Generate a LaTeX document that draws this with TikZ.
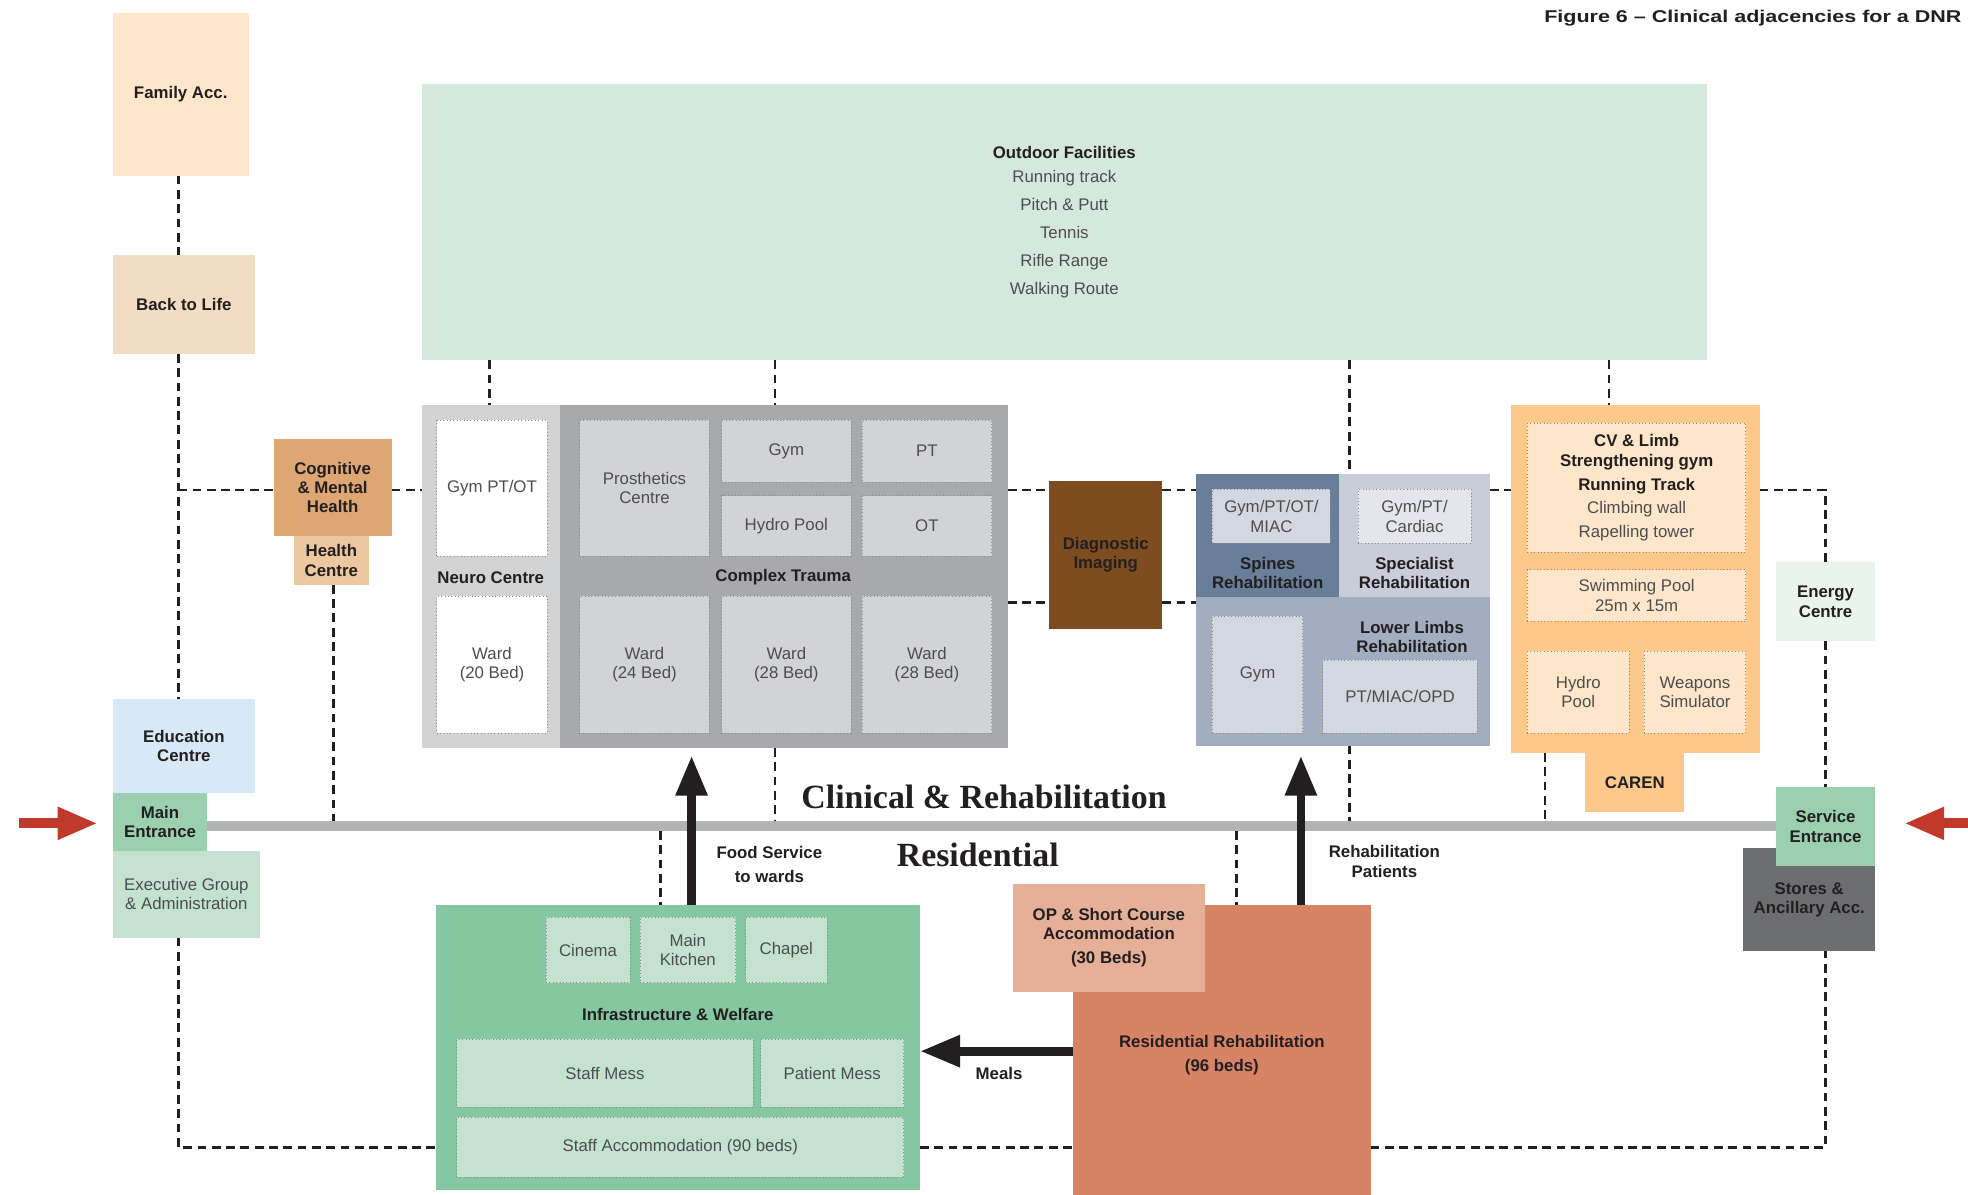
\documentclass[tikz,border=0pt]{standalone}
\usepackage{fontspec}
\setmainfont{Liberation Sans}
\newfontfamily\bannerfont{Liberation Serif}
\newfontfamily\captionfont{Liberation Sans}[FakeStretch=1.26]
\usetikzlibrary{arrows.meta}

\definecolor{ink}{HTML}{231F20}
\definecolor{soft}{HTML}{4D4D4F}
\definecolor{dotline}{HTML}{8A8B8D}
\definecolor{peachpale}{HTML}{FDE6C9}
\definecolor{peachmid}{HTML}{F3DCC4}
\definecolor{tanbox}{HTML}{DEA673}
\definecolor{tanpale}{HTML}{EBC8A0}
\definecolor{mint}{HTML}{D4E8DB}
\definecolor{mintpale}{HTML}{E8F4EC}
\definecolor{greylight}{HTML}{D1D3D4}
\definecolor{greymid}{HTML}{A7A9AC}
\definecolor{umber}{HTML}{7E4D1F}
\definecolor{slate}{HTML}{687E99}
\definecolor{slatepale}{HTML}{C9CDD7}
\definecolor{slatemid}{HTML}{A2AEC0}
\definecolor{slatecell}{HTML}{D3D7DF}
\definecolor{slatecellpale}{HTML}{E4E6EC}
\definecolor{amber}{HTML}{FDC98B}
\definecolor{sky}{HTML}{D7E8F6}
\definecolor{entry}{HTML}{9AD0AF}
\definecolor{sage}{HTML}{C4E2CF}
\definecolor{welfare}{HTML}{85C7A1}
\definecolor{terracotta}{HTML}{D78366}
\definecolor{salmon}{HTML}{E5AF98}
\definecolor{stone}{HTML}{6D6E71}
\definecolor{corridorgrey}{HTML}{B1B3B6}
\definecolor{arrowred}{HTML}{C1392B}

\begin{document}
\begin{tikzpicture}[x=0.5pt, y=-0.5pt,
  area/.style args={#1/#2/#3/#4}{at={({(#1+#3)/2},{(#2+#4)/2})},
    minimum width={(#3-#1)*0.5pt}, minimum height={(#4-#2)*0.5pt}},
  room/.style={inner sep=0pt, outer sep=0pt, align=center, text=ink,
    font=\fontsize{6.7}{7.7}\selectfont\bfseries},
  cell/.style={room, draw=dotline, densely dotted, line width=0.35pt, text=soft,
    font=\fontsize{6.7}{7.7}\selectfont},
  tag/.style={inner sep=0pt, align=center, text=ink,
    font=\fontsize{6.7}{7.9}\selectfont\bfseries},
  link/.style={draw=ink, line width=1.1pt, dash pattern=on 3.5pt off 2.2pt},
  flow/.style={draw=ink, line width=3.5pt, -{Triangle[width=12pt,length=16pt]}},
  banner/.style={inner sep=0pt, text=ink, font=\bannerfont\fontsize{13.5}{15}\selectfont\bfseries}]
  \useasboundingbox (0,0) rectangle (1568,952);
  \clip (0,0) rectangle (1568,952);

  % Title
  \node[anchor=base west, inner sep=0pt, text=ink, font=\captionfont\fontsize{6.8}{8}\selectfont\bfseries]
    (title) at (1230,18) {Figure 6 – Clinical adjacencies for a DNR};

  % Define the columns and rows the dashed links run along
  \coordinate (westx) at (142,0);
  \coordinate (neurox) at (390,0);
  \coordinate (healthx) at (266,0);
  \coordinate (infrax) at (526,0);
  \coordinate (foodx) at (551,0);
  \coordinate (traumax) at (617.5,0);
  \coordinate (resx) at (985,0);
  \coordinate (rehabx) at (1036.5,0);
  \coordinate (spinex) at (1075,0);
  \coordinate (carenx) at (1231,0);
  \coordinate (cvx) at (1282,0);
  \coordinate (eastx) at (1454.5,0);
  \coordinate (upperrow) at (0,390.5);
  \coordinate (lowerrow) at (0,480);
  \coordinate (mealsrow) at (0,837.5);
  \coordinate (bottomrow) at (0,914);
  \coordinate (westgate) at (15,656);
  \coordinate (eastgate) at (1600,656);

  % West wing
  \node[room, fill=peachpale, area=90/10/198/140] (family) {Family Acc.};
  \node[room, fill=peachmid, area=90/203/203/282] (backlife) {Back to Life};
  \node[room, fill=tanbox, area=218/350/312/427] (cognitive) {Cognitive\\\& Mental\\Health};
  \node[room, fill=tanpale, area=234/427/294/466] (health) {Health\\Centre};
  \node[room, fill=sky, area=90/557/203/632] (education) {Education\\Centre};
  \node[room, fill=entry, area=90/632/165/678] (mainent) {Main\\Entrance};
  \node[room, fill=sage, text=soft, font=\fontsize{6.7}{7.7}\selectfont,
    area=90/678/207/747] (executive) {Executive Group\\\& Administration};

  % Outdoor facilities
  \node[room, fill=mint, text=soft, font=\fontsize{6.7}{11.2}\selectfont,
    area=336/67/1360/287] (outdoor)
    {{\bfseries\color{ink}Outdoor Facilities}\\[-1.7pt]Running track\\Pitch \& Putt\\Tennis\\Rifle Range\\Walking Route};

  % Neuro centre and complex trauma
  \node[room, fill=greylight, area=336/323/446/596] (neuro) {};
  \node[room, fill=greymid, area=446/323/803/596] (trauma) {};
  \node[cell, fill=white, area=348/335/436/443] (neurogym) {Gym PT/OT};
  \node[cell, fill=white, area=348/475/436/584] (neuroward) {Ward\\(20 Bed)};
  \node[cell, fill=greylight, area=462/335/565/443] (prosthetics) {Prosthetics\\Centre};
  \node[cell, fill=greylight, area=575/335/678/384] (traumagym) {Gym};
  \node[cell, fill=greylight, area=687/335/790/384] (traumapt) {PT};
  \node[cell, fill=greylight, area=575/395/678/443] (traumahydro) {Hydro Pool};
  \node[cell, fill=greylight, area=687/395/790/443] (traumaot) {OT};
  \foreach \x/\beds [count=\i] in {462/24,575/28,687/28}
    \node[cell, fill=greylight, area=\x/475/\x+103/584] (ward\i) {Ward\\(\beds\ Bed)};
  \node[tag] (neurolabel) at (391,460) {Neuro Centre};
  \node[tag] (traumalabel) at (624,460) {Complex Trauma};

  \node[room, fill=umber, area=836/383/926/501] (diag) {Diagnostic\\Imaging};

  % Rehabilitation blocks
  \node[room, fill=slate, area=953/378/1067/476] (spines) {};
  \node[room, fill=slatepale, area=1067/378/1187/476] (specialist) {};
  \node[room, fill=slatemid, area=953/476/1187/594] (limbs) {};
  \node[cell, fill=slatecell, area=966/390/1060/433] (spinesgym) {Gym/PT/OT/\\MIAC};
  \node[cell, fill=slatecellpale, area=1082/390/1172/433] (cardiac) {Gym/PT/\\Cardiac};
  \node[cell, fill=slatecell, area=966/491/1038/584] (limbsgym) {Gym};
  \node[cell, fill=slatecell, area=1054/526/1177/584] (opd) {PT/MIAC/OPD};
  \node[tag] (spineslabel) at (1010,456.5) {Spines\\Rehabilitation};
  \node[tag] (speclabel) at (1127,456.5) {Specialist\\Rehabilitation};
  \node[tag] (limbslabel) at (1125,507.5) {Lower Limbs\\Rehabilitation};

  % CV and limb block
  \node[room, fill=amber, area=1204/323/1402/600] (cv) {};
  \node[room, fill=amber, area=1263/600/1342/647] (caren) {CAREN};
  \node[cell, fill=peachpale, font=\fontsize{6.7}{9.5}\selectfont, area=1217/337/1391/440] (cvgym)
    {{\bfseries\color{ink}CV \& Limb}\\[-1.5pt]{\bfseries\color{ink}Strengthening gym}\\{\bfseries\color{ink}Running Track}\\Climbing wall\\Rapelling tower};
  \node[cell, fill=peachpale, area=1217/454/1391/495] (pool) {Swimming Pool\\25m x 15m};
  \node[cell, fill=peachpale, area=1217/519/1298/584] (cvhydro) {Hydro\\Pool};
  \node[cell, fill=peachpale, area=1310/519/1391/584] (weapons) {Weapons\\Simulator};

  % East wing
  \node[room, fill=mintpale, area=1415/448/1494/511] (energy) {Energy\\Centre};
  \node[room, fill=stone, area=1389/676/1494/758] (stores) {Stores \&\\Ancillary Acc.};
  \node[room, fill=entry, area=1415/627/1494/690] (service) {Service\\Entrance};

  % Corridor between the two zones
  \node[inner sep=0pt, outer sep=0pt, fill=corridorgrey, area=165/654/1415/662] (corridor) {};
  \node[banner] (clinical) at (784,635) {Clinical \& Rehabilitation};
  \node[banner] (residential) at (779,681) {Residential};

  % Residential zone
  \node[room, fill=welfare, area=347/721/733/948] (infra) {};
  \node[cell, fill=sage, area=435/731/502/783] (cinema) {Cinema};
  \node[cell, fill=sage, area=510/731/586/783] (kitchen) {Main\\Kitchen};
  \node[cell, fill=sage, area=594/731/659/783] (chapel) {Chapel};
  \node[cell, fill=sage, area=364/828/600/882] (staffmess) {Staff Mess};
  \node[cell, fill=sage, area=606/828/720/882] (patientmess) {Patient Mess};
  \node[cell, fill=sage, area=364/890/720/938] (staffacc) {Staff Accommodation (90 beds)};
  \node[tag] (infralabel) at (540,808) {Infrastructure \& Welfare};
  \node[room, fill=terracotta, font=\fontsize{6.7}{9.5}\selectfont\bfseries,
    area=855/721/1092/960] (resrehab) {Residential Rehabilitation\\(96 beds)};
  \node[room, fill=salmon, area=807/704/960/790] (opshort)
    {OP \& Short Course\\Accommodation\\[2pt](30 Beds)};

  % Draw the dashed adjacencies
  \draw[link] (family.south -| westx) -- (backlife.north -| westx);
  \draw[link] (backlife.south -| westx) -- (education.north -| westx);
  \draw[link] (westx |- upperrow) -- (cognitive.west |- upperrow);
  \draw[link] (cognitive.east |- upperrow) -- (neuro.west |- upperrow);
  \draw[link] (health.south -| healthx) -- (corridor.north -| healthx);
  \draw[link] (outdoor.south -| neurox) -- (neuro.north -| neurox);
  \draw[link] (outdoor.south -| traumax) -- (trauma.north -| traumax);
  \draw[link] (outdoor.south -| spinex) -- (specialist.north -| spinex);
  \draw[link] (outdoor.south -| cvx) -- (cv.north -| cvx);
  \draw[link] (trauma.east |- upperrow) -- (diag.west |- upperrow);
  \draw[link] (diag.east |- upperrow) -- (spines.west |- upperrow);
  \draw[link] (trauma.east |- lowerrow) -- (diag.west |- lowerrow);
  \draw[link] (diag.east |- lowerrow) -- (limbs.west |- lowerrow);
  \draw[link] (specialist.east |- upperrow) -- (cv.west |- upperrow);
  \draw[link] (cv.east |- upperrow) -| (energy.north);
  \draw[link] (energy.south) -- (service.north);
  \draw[link] (trauma.south -| traumax) -- (corridor.north -| traumax);
  \draw[link] (limbs.south -| spinex) -- (corridor.north -| spinex);
  \draw[link] (cv.south -| carenx) -- (corridor.north -| carenx);
  \draw[link] (corridor.south -| infrax) -- (infra.north -| infrax);
  \draw[link] (corridor.south -| resx) -- (resrehab.north -| resx);
  \draw[link] (executive.south -| westx) |- (infra.west |- bottomrow);
  \draw[link] (infra.east |- bottomrow) -- (resrehab.west |- bottomrow);
  \draw[link] (resrehab.east |- bottomrow) -| (stores.south -| eastx);

  % Flows
  \draw[flow, shorten >=3pt] (infra.north -| foodx) -- (trauma.south -| foodx);
  \draw[flow, shorten >=4pt] (resrehab.north -| rehabx) -- (limbs.south -| rehabx);
  \draw[flow] (resrehab.west |- mealsrow) -- (infra.east |- mealsrow);
  \draw[flow, draw=arrowred, line width=4pt, shorten >=6pt] (westgate) -- (mainent.west |- westgate);
  \draw[flow, draw=arrowred, line width=4pt, shorten >=11.5pt] (eastgate) -- (service.east |- eastgate);
  \node[tag, font=\fontsize{6.7}{9.5}\selectfont\bfseries] (foodlabel) at (613,688.5) {Food Service\\to wards};
  \node[tag] (rehablabel) at (1103,686.5) {Rehabilitation\\Patients};
  \node[tag] (mealslabel) at (796,855) {Meals};
\end{tikzpicture}
\end{document}
